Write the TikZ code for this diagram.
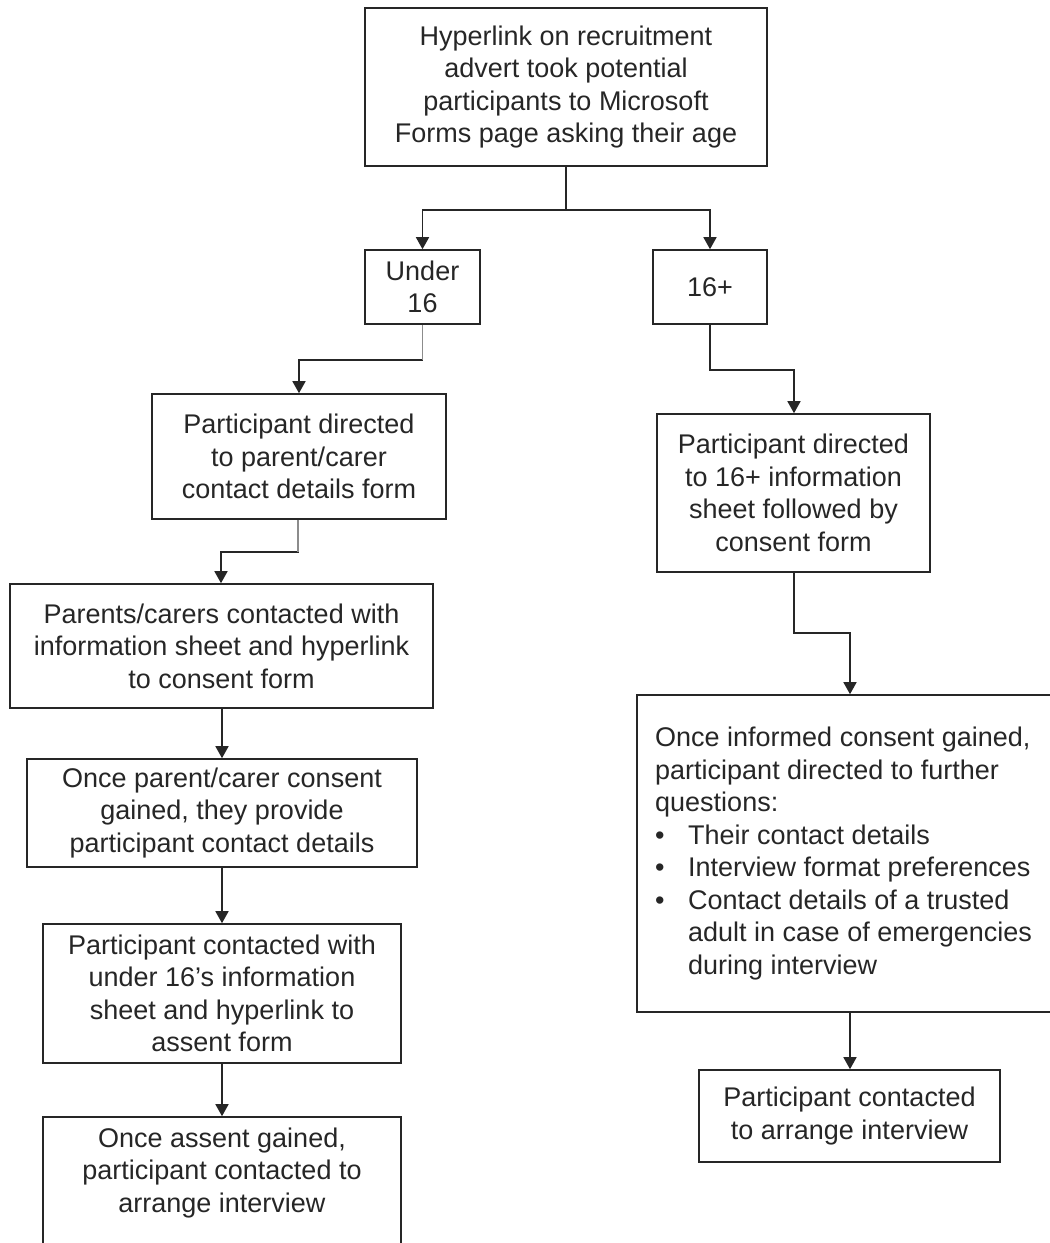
\documentclass[tikz,border=0pt]{standalone}
\usepackage{fontspec}
\setmainfont{Liberation Sans}
\usetikzlibrary{arrows.meta}
\begin{document}
\begin{tikzpicture}[x=1pt,y=-1pt,
  box/.style={draw=black!85, line width=1.6pt, inner sep=0pt, align=center,
    font=\fontsize{27}{32.5}\selectfont, text=black!85},
  txt/.style={inner sep=0pt, align=center, font=\fontsize{27}{32.5}\selectfont, text=black!85},
  arr/.style={draw=black!85, line width=1.6pt, -{Triangle[width=13pt,length=12pt]}},
  ln/.style={draw=black!85, line width=1.6pt},
  greyln/.style={draw=black!45, line width=1.9pt}]
\useasboundingbox (0,0) rectangle (1050,1243);
\clip (0,0) rectangle (1050,1243);
% boxes
\node[box, minimum width=402, minimum height=158] (top) at (566,87)
  {Hyperlink on recruitment\\advert took potential\\participants to Microsoft\\Forms page asking their age};
\node[box, minimum width=115, minimum height=74] (u16) at (422.5,287) {Under\\16};
\node[box, minimum width=114, minimum height=74] (p16) at (710,287) {16+};
\node[box, minimum width=294, minimum height=125] (b4) at (299,456.5)
  {Participant directed\\to parent/carer\\contact details form};
\node[box, minimum width=423, minimum height=124] (b5) at (221.5,646)
  {Parents/carers contacted with\\information sheet and hyperlink\\to consent form};
\node[box, minimum width=390, minimum height=108] (b6) at (222,813)
  {Once parent/carer consent\\gained, they provide\\participant contact details};
\node[box, minimum width=358, minimum height=139] (b7) at (222,993.5)
  {Participant contacted with\\under 16’s information\\sheet and hyperlink to\\assent form};
\node[box, minimum width=358, minimum height=150] (b8) at (222,1192) {};
\node[txt] (b8t) at (222,1173) {Once assent gained,\\participant contacted to\\arrange interview};
\node[box, minimum width=273, minimum height=158] (b9) at (793.5,493)
  {Participant directed\\to 16+ information\\sheet followed by\\consent form};
\node[box, minimum width=420, minimum height=317] (b10) at (847,853.5) {};
\node[txt, align=left, anchor=west] (b10t) at (655,853.5)
  {Once informed consent gained,\\
   participant directed to further\\
   questions:\\
   \makebox[33pt][l]{•}Their contact details\\
   \makebox[33pt][l]{•}Interview format preferences\\
   \makebox[33pt][l]{•}Contact details of a trusted\\
   \hspace*{33pt}adult in case of emergencies\\
   \hspace*{33pt}during interview};
\node[box, minimum width=301, minimum height=92] (b11) at (849.5,1116)
  {Participant contacted\\to arrange interview};
% connectors
\draw[ln] (top.south) -- ++(0,43) coordinate (split);
\draw[arr] (split) -| (u16.north);
\draw[arr] (split) -| (p16.north);
\draw[arr] (u16.south) -- ++(0,35) -| (b4.north);
\draw[greyln] (u16.south) -- ++(0,35);
\draw[arr] (b4.south -| 298,0) -- ++(0,32) -| (b5.north -| 221,0);
\draw[greyln] (b4.south -| 298,0) -- ++(0,32);
\draw[arr] (b5.south -| 222,0) -- (b6.north);
\draw[arr] (b6.south) -- (b7.north);
\draw[arr] (b7.south) -- (b8.north);
\draw[arr] (p16.south) -- ++(0,45) -| (b9.north -| 794,0);
\draw[arr] (b9.south -| 794,0) -- ++(0,60) -| (b10.north -| 850,0);
\draw[arr] (b10.south -| 850,0) -- (b11.north -| 850,0);
\end{tikzpicture}
\end{document}
